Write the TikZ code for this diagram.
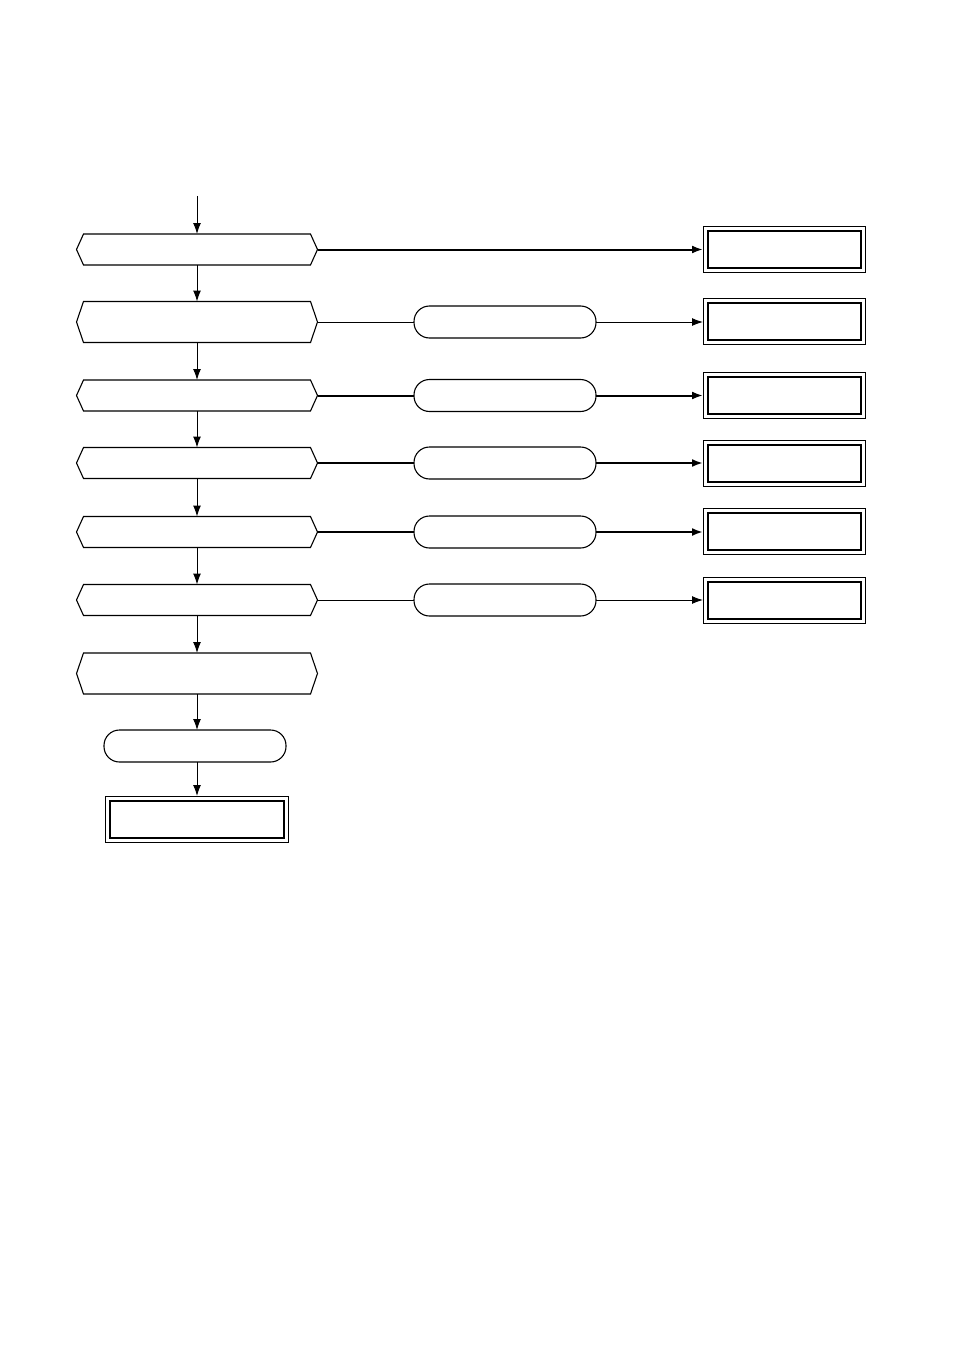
\documentclass[tikz,border=0pt]{standalone}
\usetikzlibrary{arrows.meta}
\tikzset{
  hexbox/.style={draw=none,rectangle,inner sep=0pt,outer sep=0pt,minimum width=241pt},
  ovalbox/.style={draw,line width=1.1pt,rectangle,rounded corners=15.5pt,inner sep=0pt,outer sep=0pt,minimum width=182pt,minimum height=32pt},
  outbox/.style={draw,line width=0.9pt,rectangle,inner sep=0pt,outer sep=0pt,minimum width=162pt,minimum height=46pt},
  arr/.style={-{Latex[length=11pt,width=8pt]},line width=1pt},
  thin/.style={line width=1pt},
  thick/.style={line width=2pt},
}
\newcommand{\hexdraw}[1]{%
  \draw[line width=1.1pt] ([xshift=7pt]#1.north west) -- ([xshift=-7pt]#1.north east) -- (#1.east) -- ([xshift=-7pt]#1.south east) -- ([xshift=7pt]#1.south west) -- (#1.west) -- cycle;}
\newcommand{\innerbox}[1]{%
  \draw[line width=2pt] ([xshift=4.5pt,yshift=-4.5pt]#1.north west) rectangle ([xshift=-4.5pt,yshift=4.5pt]#1.south east);}
\begin{document}
\begin{tikzpicture}[x=1pt,y=-1pt]
\useasboundingbox (0,0) rectangle (954,1351);
% left column hexagons
\node[hexbox,minimum height=31pt] (h1) at (197,249.5) {};
\node[hexbox,minimum height=41pt] (h2) at (197,322) {};
\node[hexbox,minimum height=31pt] (h3) at (197,395.5) {};
\node[hexbox,minimum height=31pt] (h4) at (197,463) {};
\node[hexbox,minimum height=31pt] (h5) at (197,532) {};
\node[hexbox,minimum height=31pt] (h6) at (197,600) {};
\node[hexbox,minimum height=41pt] (h7) at (197,673.5) {};
\foreach \n in {h1,h2,h3,h4,h5,h6,h7} {\hexdraw{\n}}
% bottom oval and box
\node[ovalbox] (o7) at (195,746) {};
\node[outbox,minimum width=183pt] (b7) at (196.5,819) {};
\innerbox{b7}
% middle ovals
\node[ovalbox] (o2) at (505,322) {};
\node[ovalbox] (o3) at (505,395.5) {};
\node[ovalbox] (o4) at (505,463) {};
\node[ovalbox] (o5) at (505,532) {};
\node[ovalbox] (o6) at (505,600) {};
% right boxes
\node[outbox] (b1) at (784,249.5) {};
\node[outbox] (b2) at (784,321) {};
\node[outbox] (b3) at (784,395) {};
\node[outbox] (b4) at (784,463) {};
\node[outbox] (b5) at (784,531) {};
\node[outbox] (b6) at (784,600) {};
\foreach \n in {b1,b2,b3,b4,b5,b6} {\innerbox{\n}}
% vertical flow
\coordinate (start) at (197,196);
\draw[arr] (start) -- (h1.north);
\draw[arr] (h1.south) -- (h2.north);
\draw[arr] (h2.south) -- (h3.north);
\draw[arr] (h3.south) -- (h4.north);
\draw[arr] (h4.south) -- (h5.north);
\draw[arr] (h5.south) -- (h6.north);
\draw[arr] (h6.south) -- (h7.north);
\draw[arr] (h7.south) -- (h7.south |- o7.north);
\draw[arr] (o7.south -| h7.south) -- (h7.south |- b7.north);
% horizontal
\draw[arr,thick] (h1.east) -- (b1.west);
\draw[thin] (h2.east) -- (o2.west);
\draw[arr,thin] (o2.east) -- (o2.east -| b2.west);
\draw[thick] (h3.east) -- (o3.west);
\draw[arr,thick] (o3.east) -- (o3.east -| b3.west);
\draw[thick] (h4.east) -- (o4.west);
\draw[arr,thick] (o4.east) -- (o4.east -| b4.west);
\draw[thick] (h5.east) -- (o5.west);
\draw[arr,thick] (o5.east) -- (o5.east -| b5.west);
\draw[thin] (h6.east) -- (o6.west);
\draw[arr,thin] (o6.east) -- (o6.east -| b6.west);
\end{tikzpicture}
\end{document}
